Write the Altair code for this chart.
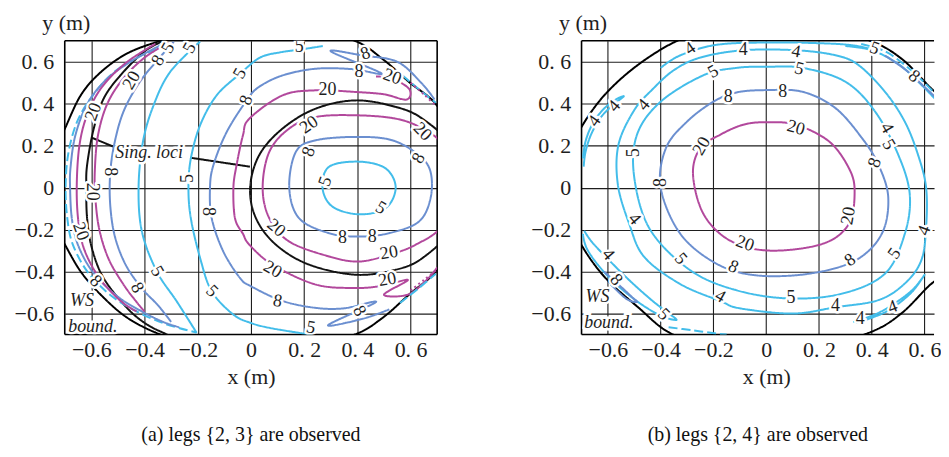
import altair as alt
import pandas as pd

SERIF = "Times New Roman, Liberation Serif, DejaVu Serif, serif"

# ---------------- axis ticks ----------------
TICKS = [-0.6, -0.4, -0.2, 0.0, 0.2, 0.4, 0.6]
TICK_LABELS = ["−0.6", "−0.4", "−0.2", "0", "0. 2", "0. 4", "0. 6"]

# ---------------- line kinds ----------------
KINDS = ["c5", "c5d", "c8", "c20", "c20d", "ws", "sing", "lead"]
KIND_COLORS = ["#43bdea", "#43bdea", "#6b8fd0", "#b2489c", "#b2489c", "#000000", "#111111", "#111111"]
KIND_WIDTHS = [2.0, 2.0, 2.0, 2.0, 2.0, 2.6, 1.3, 1.1]
KIND_DASHES = [[1, 0], [9, 4], [1, 0], [1, 0], [2, 3], [1, 0], [1, 0], [1, 0]]

# ================= panel (a): legs {2,3} =================
A_WS = [(-0.76, 0.0), (-0.73, 0.20), (-0.70, 0.28), (-0.64, 0.44), (-0.565, 0.55), (-0.465, 0.64),
        (-0.34, 0.70), (-0.2, 0.75), (0.02, 0.78), (0.2, 0.76), (0.39, 0.70), (0.494, 0.614),
        (0.594, 0.504), (0.70, 0.39), (0.77, 0.2), (0.79, 0.0), (0.77, -0.2), (0.70, -0.39),
        (0.594, -0.51), (0.494, -0.621), (0.39, -0.70), (0.2, -0.76), (0.02, -0.78), (-0.2, -0.75),
        (-0.34, -0.70), (-0.465, -0.62), (-0.565, -0.51), (-0.64, -0.40), (-0.70, -0.27), (-0.73, -0.20)]
A_SING_R = [(0.394, 0.416), (0.244, 0.377), (0.119, 0.282), (0.031, 0.155), (-0.003, 0.0),
            (0.019, -0.146), (0.094, -0.272), (0.219, -0.367), (0.394, -0.415), (0.544, -0.391),
            (0.644, -0.336), (0.75, -0.2), (0.78, 0.0), (0.75, 0.2), (0.644, 0.329), (0.544, 0.385)]
A_J20 = [(0.394, 0.345), (0.244, 0.337), (0.144, 0.282), (0.069, 0.171), (0.044, 0.0), (0.069, -0.146),
         (0.144, -0.257), (0.294, -0.328), (0.406, -0.352), (0.519, -0.32), (0.619, -0.272),
         (0.72, -0.18), (0.76, 0.0), (0.72, 0.20), (0.644, 0.282), (0.544, 0.329)]
A_K8 = [(0.40, 0.242), (0.244, 0.226), (0.169, 0.171), (0.144, 0.0), (0.181, -0.146), (0.294, -0.217),
        (0.406, -0.233), (0.519, -0.217), (0.631, -0.162), (0.675, -0.051), (0.675, 0.076),
        (0.631, 0.155), (0.531, 0.226)]
A_L5 = [(0.406, 0.124), (0.294, 0.10), (0.269, 0.0), (0.306, -0.09), (0.406, -0.127), (0.506, -0.098),
        (0.544, 0.0), (0.506, 0.092)]

A_SING_L = [(-0.30, 0.72), (-0.335, 0.697), (-0.404, 0.646), (-0.491, 0.535), (-0.554, 0.424),
            (-0.591, 0.282), (-0.616, 0.108), (-0.619, 0.0), (-0.616, -0.146), (-0.598, -0.288),
            (-0.554, -0.431), (-0.466, -0.573), (-0.391, -0.652), (-0.316, -0.70), (-0.29, -0.72)]
A_LEAD1 = [(-0.516, 0.195), (-0.598, 0.238)]
A_LEAD2 = [(-0.229, 0.143), (-0.004, 0.10)]
A_A5 = [(-0.31, 0.68), (-0.42, 0.625), (-0.52, 0.545), (-0.60, 0.43), (-0.655, 0.31), (-0.687, 0.16),
        (-0.697, 0.0), (-0.69, -0.15), (-0.67, -0.27), (-0.615, -0.40), (-0.53, -0.51), (-0.43, -0.59),
        (-0.32, -0.65), (-0.205, -0.69)]
A_B8 = [(-0.33, 0.685), (-0.44, 0.61), (-0.54, 0.52), (-0.615, 0.40), (-0.66, 0.25), (-0.678, 0.1),
        (-0.68, 0.0), (-0.673, -0.15), (-0.648, -0.28), (-0.59, -0.41), (-0.50, -0.52), (-0.41, -0.59),
        (-0.33, -0.64), (-0.27, -0.665)]
A_C20 = [(-0.36, 0.685), (-0.47, 0.595), (-0.56, 0.48), (-0.615, 0.35), (-0.645, 0.2), (-0.655, 0.0),
         (-0.648, -0.17), (-0.625, -0.30), (-0.57, -0.43), (-0.49, -0.54), (-0.43, -0.59)]
A_D20 = [(-0.31, 0.69), (-0.40, 0.62), (-0.48, 0.52), (-0.54, 0.40), (-0.575, 0.25), (-0.587, 0.08),
         (-0.585, -0.05), (-0.57, -0.2), (-0.535, -0.34), (-0.48, -0.46), (-0.43, -0.545), (-0.40, -0.59)]
A_E8 = [(-0.29, 0.695), (-0.35, 0.61), (-0.42, 0.50), (-0.48, 0.36), (-0.515, 0.2), (-0.53, 0.05),
        (-0.528, -0.1), (-0.51, -0.24), (-0.47, -0.37), (-0.41, -0.48), (-0.35, -0.56), (-0.30, -0.64)]
A_F5 = [(-0.191, 0.697), (-0.304, 0.551), (-0.366, 0.393), (-0.406, 0.219), (-0.4225, 0.0),
        (-0.41, -0.209), (-0.354, -0.399), (-0.279, -0.542), (-0.204, -0.692)]
A_G5 = [(0.27, 0.675), (0.194, 0.66), (0.11, 0.645), (0.034, 0.62), (-0.041, 0.543), (-0.129, 0.44),
        (-0.191, 0.298), (-0.226, 0.139), (-0.235, 0.0), (-0.226, -0.146), (-0.191, -0.336),
        (-0.1475, -0.494), (-0.066, -0.605), (0.0, -0.645), (0.069, -0.668), (0.181, -0.692), (0.231, -0.70)]
A_H8 = [(0.69, 0.42), (0.64, 0.50), (0.55, 0.60), (0.42, 0.63), (0.30, 0.65), (0.49, 0.545),
        (0.38, 0.565), (0.244, 0.567), (0.119, 0.535), (0.03, 0.48), (-0.016, 0.416), (-0.091, 0.266),
        (-0.141, 0.108), (-0.154, 0.0), (-0.1475, -0.146), (-0.104, -0.304), (-0.041, -0.431),
        (0.0, -0.47), (0.119, -0.54), (0.244, -0.573), (0.35, -0.575), (0.47, -0.545), (0.29, -0.655),
        (0.42, -0.625), (0.52, -0.58)]
A_I20 = [(0.47, 0.53), (0.53, 0.52), (0.595, 0.47), (0.585, 0.42), (0.50, 0.445), (0.394, 0.456),
         (0.244, 0.464), (0.119, 0.44), (-0.006, 0.329), (-0.03, 0.25), (-0.054, 0.108), (-0.066, 0.0),
         (-0.06, -0.146), (-0.03, -0.22), (-0.006, -0.272), (0.081, -0.367), (0.244, -0.462),
         (0.394, -0.478), (0.49, -0.468), (0.59, -0.44), (0.50, -0.51), (0.59, -0.51), (0.66, -0.44),
         (0.70, -0.38)]
A_TR5 = [(0.57, 0.535), (0.63, 0.47), (0.695, 0.405)]
A_BR5 = [(0.56, -0.55), (0.63, -0.48), (0.695, -0.41)]
A_TR20 = [(0.60, 0.50), (0.65, 0.445), (0.695, 0.39)]
A_BR20 = [(0.60, -0.49), (0.65, -0.44), (0.695, -0.395)]

A_LINES = [
    ("ws", "ws", True, A_WS), ("singR", "sing", True, A_SING_R), ("J", "c20", True, A_J20),
    ("K", "c8", True, A_K8), ("L", "c5", True, A_L5),
    ("singL", "sing", False, A_SING_L), ("lead1", "lead", False, A_LEAD1), ("lead2", "lead", False, A_LEAD2),
    ("A", "c5d", False, A_A5), ("B", "c8", False, A_B8), ("C", "c20", False, A_C20),
    ("D", "c20", False, A_D20), ("E", "c8", False, A_E8), ("F", "c5", False, A_F5),
    ("G", "c5", False, A_G5), ("H", "c8", False, A_H8), ("I", "c20", False, A_I20),
    ("TR5", "c5d", False, A_TR5), ("BR5", "c5d", False, A_BR5),
    ("TR20", "c20d", False, A_TR20), ("BR20", "c20d", False, A_BR20),
]

A_LABELS = [
    ("5", -0.31, 0.665, -60), ("5", -0.229, 0.665, -60), ("8", -0.3475, 0.606, -60),
    ("20", -0.4475, 0.511, -60), ("20", -0.591, 0.361, -70), ("20", -0.5975, -0.019, 90),
    ("20", -0.641, -0.209, 70), ("8", -0.529, 0.076, 90), ("8", -0.585, -0.447, 45),
    ("8", -0.429, -0.478, 60), ("5", -0.354, -0.399, 60), ("5", -0.235, 0.044, -90),
    ("5", -0.1475, -0.494, 45), ("5", -0.041, 0.543, -60), ("8", -0.016, 0.416, -70),
    ("8", -0.16, -0.114, 90), ("8", 0.431, 0.638, -20), ("8", 0.406, 0.551, 0),
    ("20", 0.2875, 0.464, 0), ("20", 0.531, 0.527, 20), ("20", 0.219, 0.298, -35),
    ("8", 0.219, 0.171, -70), ("5", 0.281, 0.029, -70), ("5", 0.4875, -0.098, 30),
    ("8", 0.344, -0.241, 0), ("8", 0.456, -0.233, 0), ("20", 0.094, -0.193, 40),
    ("20", 0.081, -0.391, 30), ("20", 0.519, -0.312, -10), ("20", 0.513, -0.439, -10),
    ("8", 0.1, -0.542, 10), ("8", 0.406, -0.589, 60), ("5", 0.225, -0.668, 10),
    ("8", 0.631, 0.139, -60), ("20", 0.644, 0.266, 45), ("5", 0.181, 0.672, 0),
]
A_NOTES = [("Sing. loci", -0.51, 0.163), ("WS", -0.68, -0.54), ("bound.", -0.687, -0.665)]
A_BORDERS = [(-0.7, -0.7, -0.7, 0.7), (0.7, 0.7, -0.7, 0.7), (-0.7, 0.7, 0.7, 0.7), (-0.7, 0.7, -0.7, -0.7)]

# ================= panel (b): legs {2,4} =================
B_XMAX = 0.636
B_WS = [(-0.76, 0.0), (-0.74, 0.16), (-0.7025, 0.284), (-0.6125, 0.442), (-0.4875, 0.584), (-0.3375, 0.70),
        (-0.2, 0.75), (0.02, 0.78), (0.2, 0.76), (0.394, 0.70), (0.5125, 0.615), (0.6125, 0.489),
        (0.684, 0.394), (0.76, 0.2), (0.79, 0.0), (0.76, -0.2), (0.684, -0.39), (0.6125, -0.473),
        (0.5125, -0.599), (0.40, -0.686), (0.2, -0.76), (0.02, -0.78), (-0.2, -0.75), (-0.3625, -0.694),
        (-0.4875, -0.568), (-0.6125, -0.426), (-0.7025, -0.268), (-0.74, -0.14)]
B_P20 = [(0.0, 0.312), (0.1125, 0.30), (0.2375, 0.221), (0.3125, 0.095), (0.335, -0.016), (0.3125, -0.174),
         (0.2125, -0.268), (0.0125, -0.30), (-0.1375, -0.252), (-0.2375, -0.126), (-0.2775, 0.063),
         (-0.25, 0.189), (-0.175, 0.252), (-0.0875, 0.30)]
B_P8 = [(0.0, 0.465), (0.1375, 0.457), (0.2625, 0.379), (0.3625, 0.237), (0.425, 0.11), (0.4625, -0.047),
        (0.4375, -0.221), (0.3375, -0.347), (0.1625, -0.41), (-0.0375, -0.418), (-0.1875, -0.363),
        (-0.325, -0.221), (-0.40, 0.0), (-0.38, 0.189), (-0.30, 0.315), (-0.20, 0.41), (-0.1125, 0.454)]
B_P5 = [(0.0, 0.576), (0.1375, 0.571), (0.30, 0.505), (0.4125, 0.363), (0.50, 0.158), (0.544, -0.032),
        (0.525, -0.221), (0.45, -0.41), (0.2875, -0.505), (0.0875, -0.528), (-0.1125, -0.489),
        (-0.2875, -0.394), (-0.44, -0.20), (-0.50, 0.047), (-0.49, 0.252), (-0.40, 0.41),
        (-0.2375, 0.536), (-0.1125, 0.571)]
B_P4 = [(-0.0875, 0.655), (0.1125, 0.655), (0.2625, 0.631), (0.35, 0.584), (0.45, 0.457), (0.525, 0.315),
        (0.575, 0.158), (0.606, 0.0), (0.606, -0.189), (0.5875, -0.347), (0.525, -0.457), (0.425, -0.536),
        (0.2625, -0.57), (0.1, -0.60), (-0.1, -0.575), (-0.175, -0.54), (-0.325, -0.46), (-0.4625, -0.33),
        (-0.52, -0.17), (-0.5625, 0.016), (-0.56, 0.205), (-0.50, 0.37), (-0.43, 0.47), (-0.35, 0.56),
        (-0.25, 0.62)]
B_QTOP = [(-0.40, 0.571), (-0.325, 0.631), (-0.1875, 0.681), (0.0125, 0.692), (0.2125, 0.688),
          (0.325, 0.679), (0.40, 0.66)]
B_QUL = [(-0.692, 0.10), (-0.685, 0.17), (-0.665, 0.25), (-0.63, 0.33), (-0.585, 0.39), (-0.54, 0.435),
         (-0.57, 0.42), (-0.62, 0.37), (-0.66, 0.30), (-0.685, 0.22), (-0.695, 0.14)]
B_QLL = [(-0.69, -0.205), (-0.66, -0.26), (-0.60, -0.34), (-0.52, -0.44), (-0.44, -0.53), (-0.38, -0.59),
         (-0.34, -0.63), (-0.40, -0.61), (-0.48, -0.55), (-0.56, -0.47), (-0.63, -0.38), (-0.68, -0.29),
         (-0.695, -0.22)]
B_QLL8 = [(-0.615, -0.40), (-0.57, -0.45), (-0.51, -0.52), (-0.49, -0.545), (-0.53, -0.53), (-0.59, -0.46)]
B_QLLD = [(-0.37, -0.665), (-0.28, -0.68), (-0.19, -0.695), (-0.15, -0.70)]
B_QUR1 = [(0.30, 0.675), (0.40, 0.655), (0.50, 0.59), (0.58, 0.50), (0.65, 0.41)]
B_QUR2 = [(0.36, 0.685), (0.45, 0.65), (0.53, 0.58), (0.60, 0.50), (0.66, 0.42)]
B_QUR8 = [(0.45, 0.63), (0.53, 0.56), (0.60, 0.48), (0.65, 0.42)]
B_QLR = [(0.33, -0.64), (0.42, -0.60), (0.50, -0.54), (0.56, -0.48), (0.60, -0.415), (0.55, -0.50),
         (0.47, -0.58), (0.40, -0.62), (0.34, -0.645)]

B_LINES = [
    ("ws", "ws", True, B_WS), ("P20", "c20", True, B_P20), ("P8", "c8", True, B_P8),
    ("P5", "c5", True, B_P5), ("P4", "c5", True, B_P4),
    ("Qtop", "c5", False, B_QTOP), ("Qul", "c5", False, B_QUL), ("Qll", "c5", False, B_QLL),
    ("Qll8", "c8", False, B_QLL8), ("Qlld", "c5d", False, B_QLLD), ("Qur1", "c5", False, B_QUR1),
    ("Qur2", "c5d", False, B_QUR2), ("Qur8", "c8", False, B_QUR8), ("Qlr", "c5", False, B_QLR),
]
B_LABELS = [
    ("4", -0.2875, 0.662, -35), ("4", -0.0875, 0.655, 0), ("4", 0.1125, 0.647, 10),
    ("4", -0.463, 0.393, -50), ("4", -0.65, 0.317, -55), ("4", -0.575, 0.388, -50),
    ("4", -0.50, -0.15, 50), ("4", -0.175, -0.52, 30), ("4", 0.2625, -0.565, 0),
    ("4", 0.60, -0.205, -70), ("4", 0.456, 0.284, 60), ("4", 0.356, -0.625, 0),
    ("4", 0.48, -0.57, -20), ("4", -0.60, -0.32, 50),
    ("5", -0.2, 0.552, -30), ("5", 0.125, 0.565, 15), ("5", -0.50, 0.166, -90),
    ("5", -0.325, -0.34, 50), ("5", 0.094, -0.528, 0), ("5", 0.4875, -0.315, -55),
    ("5", 0.4625, 0.205, 60), ("5", -0.39, -0.605, 45), ("5", 0.41, 0.663, 20),
    ("8", -0.144, 0.434, 0), ("8", 0.0625, 0.457, 0), ("8", 0.4125, 0.118, -70),
    ("8", -0.40, 0.024, -90), ("8", -0.125, -0.379, 25), ("8", 0.319, -0.347, -35),
    ("8", -0.57, -0.44, 50), ("8", 0.56, 0.53, 40),
    ("20", 0.1125, 0.284, 15), ("20", -0.244, 0.197, -60), ("20", 0.3125, -0.134, -80),
    ("20", -0.081, -0.268, 20),
]
B_NOTES = [("WS", -0.685, -0.52), ("bound.", -0.69, -0.645)]
B_BORDERS = [(-0.7, -0.7, -0.7, 0.7), (-0.7, B_XMAX, 0.7, 0.7), (-0.7, B_XMAX, -0.7, -0.7)]

CAPTIONS = ["(a) legs {2, 3} are observed", "(b) legs {2, 4} are observed"]

# ---------------- helpers ----------------
LABEL_EXPR = " : ".join(f"datum.value == {v} ? '{l}'" for v, l in zip(TICKS, TICK_LABELS)) + " : ''"


def lines_frame(lines):
    rows = []
    for name, kind, closed, pts in lines:
        for i, (x, y) in enumerate(pts):
            rows.append({"cid": name, "kind": kind, "closed": closed, "i": i, "x": x, "y": y})
    return pd.DataFrame(rows)


def make_panel(lines, labels, notes, borders, xdom, width, caption, title_x):
    xsc = alt.Scale(domain=xdom, nice=False, zero=False)
    ysc = alt.Scale(domain=[-0.7, 0.7], nice=False, zero=False)
    xaxis = alt.Axis(values=TICKS, labelExpr=LABEL_EXPR, grid=True, gridColor="#1e1e1e", gridWidth=1.1,
                     gridOpacity=1, domain=False, ticks=False, labelFont=SERIF, labelFontSize=22,
                     labelColor="#1e1e1e", labelPadding=5, labelOverlap=False, labelFlush=False,
                     title="x (m)", titleFont=SERIF, titleFontSize=22, titleFontWeight="normal",
                     titleColor="#1e1e1e", titlePadding=6, titleX=title_x)
    yaxis = alt.Axis(values=TICKS, labelExpr=LABEL_EXPR, grid=True, gridColor="#1e1e1e", gridWidth=1.1,
                     gridOpacity=1, domain=False, ticks=False, labelFont=SERIF, labelFontSize=22,
                     labelColor="#1e1e1e", labelPadding=11, labelOverlap=False, labelFlush=False,
                     title="y (m)", titleFont=SERIF, titleFontSize=22, titleFontWeight="normal",
                     titleColor="#1e1e1e", titleAngle=0, titleAlign="center", titleBaseline="alphabetic",
                     titleX=1, titleY=-11)
    X = alt.X("x:Q", scale=xsc, axis=xaxis, title="x (m)")
    Y = alt.Y("y:Q", scale=ysc, axis=yaxis, title="y (m)")

    bdf = pd.DataFrame(borders, columns=["x", "x2", "y", "y2"])
    border = alt.Chart(bdf).mark_rule(color="black", strokeWidth=1.6).encode(
        x=X, x2="x2:Q", y=Y, y2="y2:Q")

    ldf = lines_frame(lines)
    enc = dict(
        x=X, y=Y, detail="cid:N", order="i:Q",
        color=alt.Color("kind:N", scale=alt.Scale(domain=KINDS, range=KIND_COLORS), legend=None),
        strokeWidth=alt.StrokeWidth("kind:N", scale=alt.Scale(domain=KINDS, range=KIND_WIDTHS), legend=None),
        strokeDash=alt.StrokeDash("kind:N", scale=alt.Scale(domain=KINDS, range=KIND_DASHES), legend=None),
    )
    closed = alt.Chart(ldf[ldf.closed]).mark_line(interpolate="cardinal-closed", clip=True).encode(**enc)
    opened = alt.Chart(ldf[~ldf.closed]).mark_line(interpolate="cardinal", clip=True).encode(**enc)

    tdf = pd.DataFrame(labels, columns=["t", "x", "y", "a"])
    tdf["a"] = tdf["a"] % 360
    tenc = dict(x=X, y=Y, text="t:N", angle=alt.Angle("a:Q", scale=None))
    halo = alt.Chart(tdf).mark_text(font=SERIF, fontSize=18, stroke="white", strokeWidth=5,
                                    strokeJoin="round", fill="white", clip=True).encode(**tenc)
    txt = alt.Chart(tdf).mark_text(font=SERIF, fontSize=18, color="#1e1e1e", clip=True).encode(**tenc)

    ndf = pd.DataFrame(notes, columns=["t", "x", "y"])
    nenc = dict(x=X, y=Y, text="t:N")
    nhalo = alt.Chart(ndf).mark_text(font=SERIF, fontSize=18, fontStyle="italic", align="left",
                                     stroke="white", strokeWidth=5, fill="white", clip=True).encode(**nenc)
    ntxt = alt.Chart(ndf).mark_text(font=SERIF, fontSize=18, fontStyle="italic", align="left",
                                    color="#1e1e1e", clip=True).encode(**nenc)

    return alt.layer(border, closed, opened, halo, txt, nhalo, ntxt).properties(
        width=width, height=295,
        title=alt.TitleParams(caption, orient="bottom", font=SERIF, fontSize=20, fontWeight="normal",
                              color="#111111", anchor="middle", frame="group", offset=38))


panel_a = make_panel(A_LINES, A_LABELS, A_NOTES, A_BORDERS, [-0.7, 0.7], 374, CAPTIONS[0], 187)
panel_b = make_panel(B_LINES, B_LABELS, B_NOTES, B_BORDERS, [-0.7, B_XMAX], 354, CAPTIONS[1], 185.5)

chart = alt.hconcat(panel_a, panel_b, spacing=93).properties(
    padding={"left": 6, "top": 3, "right": 0, "bottom": 0}
).configure_view(stroke=None)

chart.save("out.html", embed_options={"renderer": "svg", "actions": False})
